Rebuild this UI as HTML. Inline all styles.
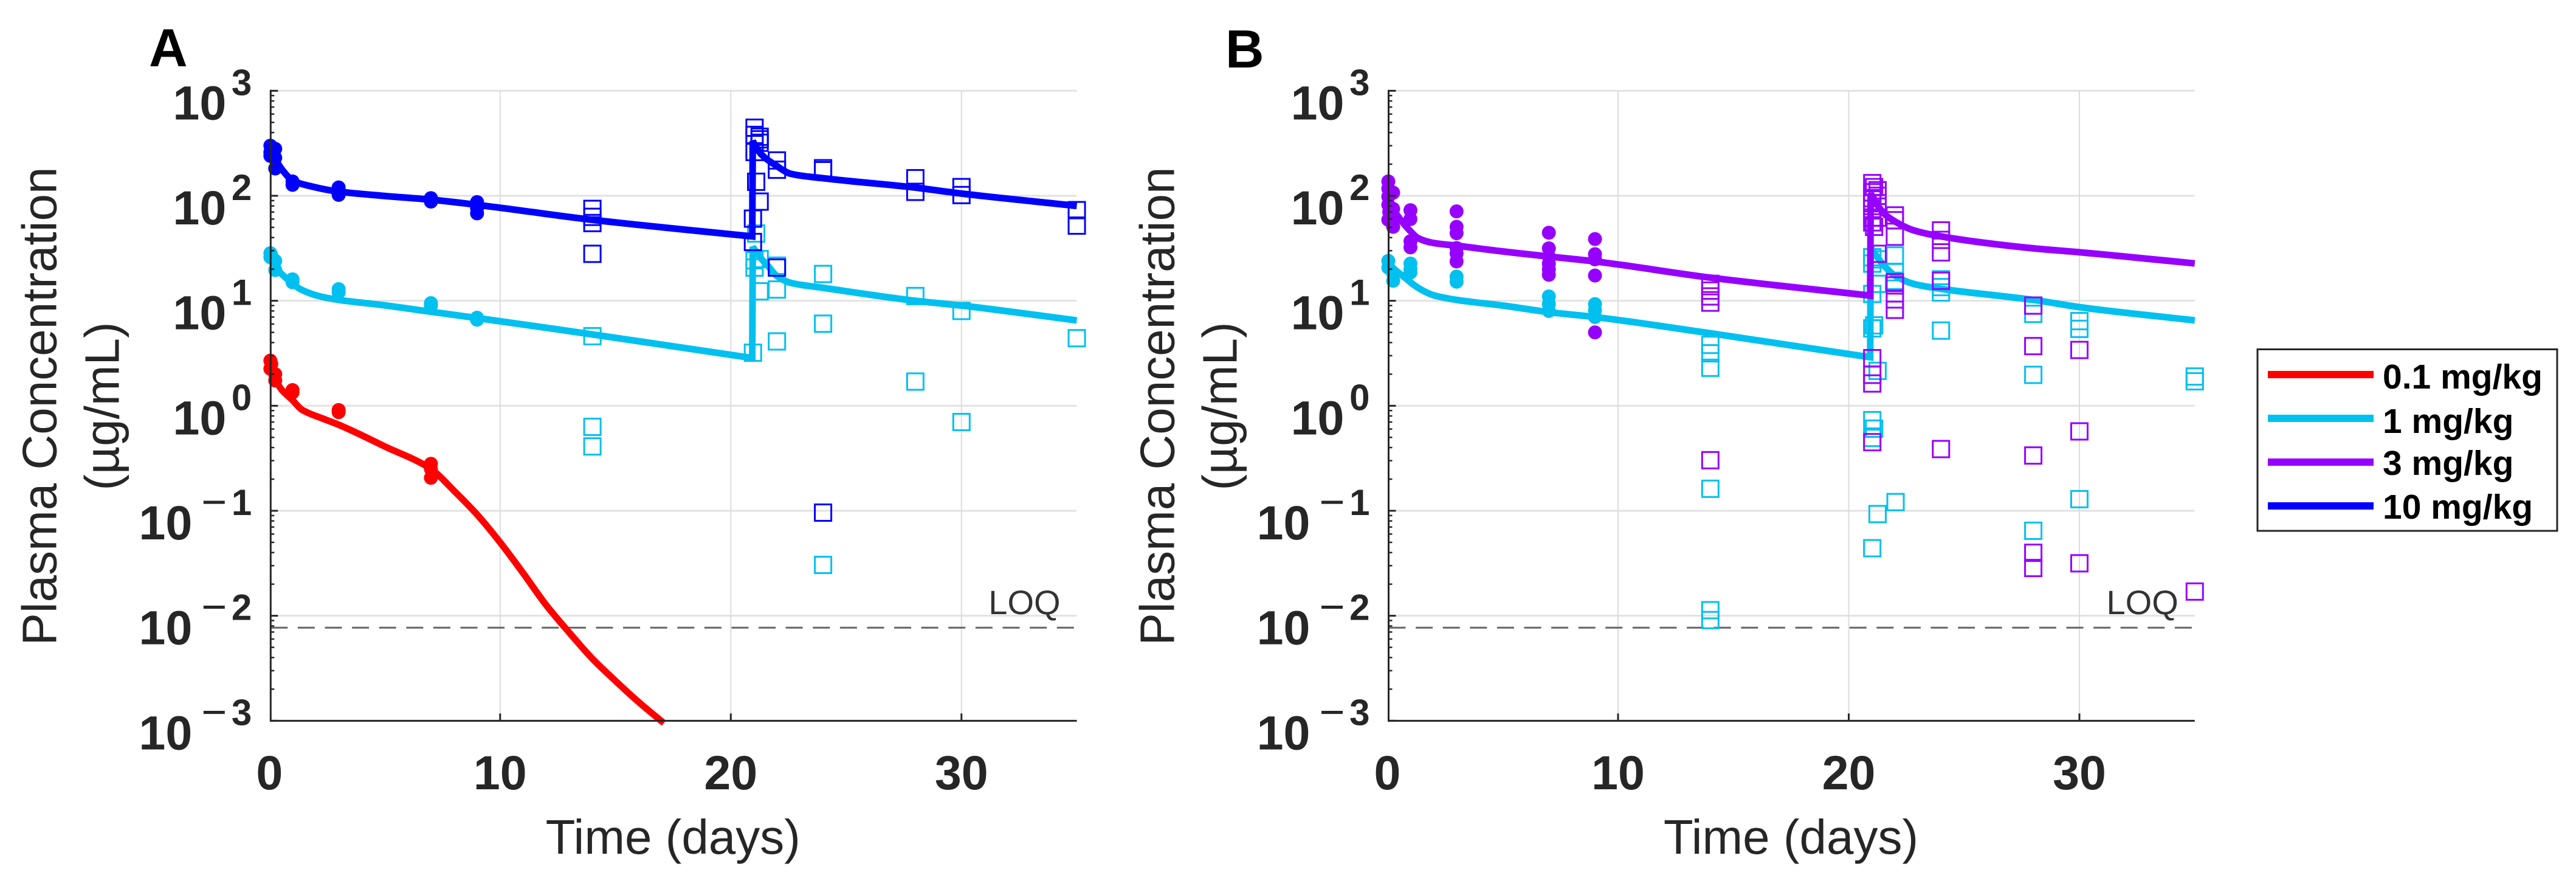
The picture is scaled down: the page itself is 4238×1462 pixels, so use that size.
<!DOCTYPE html>
<html lang="en">
<head>
<meta charset="utf-8">
<title>Plasma Concentration vs Time</title>
<style>
html,body{margin:0;padding:0;background:#fff;width:4238px;height:1462px;overflow:hidden}
svg{display:block}
text{font-family:"Liberation Sans",Arial,sans-serif;fill:#262626}
</style>
</head>
<body>
<svg id="figure" xmlns="http://www.w3.org/2000/svg" width="4238" height="1462" viewBox="0 0 4238 1462">
  <rect x="0" y="0" width="4238" height="1462" fill="#fff"/>
  <text x="245" y="109" font-size="88" font-weight="bold" style="fill:#000">A</text>
  <text x="2016" y="111" font-size="88" font-weight="bold" style="fill:#000">B</text>
  <g id="panelA"></g>
  <g id="panelB"></g>
  <g id="legend">
    <rect x="3714" y="574.5" width="493" height="298.5" fill="#fff" stroke="#262626" stroke-width="3"/>
    <line x1="3731" x2="3905" y1="616" y2="616" stroke="#ff0000" stroke-width="12"/>
    <text x="3920" y="639" font-size="57" font-weight="bold" style="fill:#000">0.1 mg/kg</text>
    <line x1="3731" x2="3905" y1="688" y2="688" stroke="#00c0f0" stroke-width="12"/>
    <text x="3920" y="712" font-size="57" font-weight="bold" style="fill:#000">1 mg/kg</text>
    <line x1="3731" x2="3905" y1="760" y2="760" stroke="#9600ff" stroke-width="12"/>
    <text x="3920" y="781" font-size="57" font-weight="bold" style="fill:#000">3 mg/kg</text>
    <line x1="3731" x2="3905" y1="832" y2="832" stroke="#0000ff" stroke-width="12"/>
    <text x="3920" y="853" font-size="57" font-weight="bold" style="fill:#000">10 mg/kg</text>
  </g>
</svg>
<script>
// ---- axis tick data ----
const xTickValues = [0, 10, 20, 30];
const xGridValues = [10, 20, 30];
const yTickExponents = [3, 2, 1, 0, -1, -2, -3];
const yMinorFactors = [2, 3, 4, 5, 6, 7, 8, 9];
const loqValue = 0.0077;

// ---- Panel A model curves ----
const aRedTimes = [0, 0.25, 0.52, 1, 1.4, 2.28, 3, 5, 7, 8, 9, 10, 11, 12, 13, 14, 15, 16, 17.1];
const aRedValues = [2.5, 1.8, 1.43, 1.13, 0.92, 0.76, 0.66, 0.41, 0.25, 0.155, 0.092, 0.05, 0.0254, 0.0126, 0.0069, 0.0039, 0.0024, 0.00151, 0.00095];
const aCyanPreTimes = [0, 0.25, 0.7, 1.4, 2.28, 3, 4.9, 7, 9, 14, 20.93];
const aCyanPreValues = [27, 21, 16.6, 12.7, 10.9, 10.2, 9.1, 7.86, 6.85, 4.78, 2.85];
const aCyanPostTimes = [20.95, 21.3, 21.6, 22, 22.6, 24, 28, 30, 35];
const aCyanPostValues = [32.6, 25.5, 21.6, 17.2, 14.8, 13.3, 10, 9, 6.5];
const aBluePreTimes = [0, 0.25, 0.57, 1, 1.83, 3, 4.9, 7, 9, 14, 20.93];
const aBluePreValues = [288, 225, 175, 140, 122.7, 109.6, 100, 91.8, 82, 59, 41];
const aBluePostTimes = [20.95, 21.3, 21.95, 22.6, 24, 28, 30, 35];
const aBluePostValues = [332, 251, 195, 162, 147, 119.6, 105, 80];

// ---- Panel A observed dots (first dose) ----
const aRedDotTimes = [0.04, 0.04, 0.08, 0.25, 0.25, 1, 1, 3, 3, 7, 7, 7];
const aRedDotValues = [2.69, 2.25, 2.5, 1.74, 2.0, 1.41, 1.34, 0.91, 0.87, 0.28, 0.25, 0.206];
const aCyanDotTimes = [0.04, 0.04, 0.08, 0.25, 0.25, 1, 1, 3, 3, 7, 7, 9, 9];
const aCyanDotValues = [28.4, 26, 27, 24, 19.6, 16, 15, 12.9, 12, 9.5, 9, 6.9, 6.6];
const aBlueDotTimes = [0.04, 0.04, 0.04, 0.08, 0.25, 0.25, 0.25, 1, 1, 3, 3, 7, 7, 9, 9, 9];
const aBlueDotValues = [300, 260, 240, 280, 280, 230, 182, 137, 127, 120, 102, 95, 88, 87, 76, 68];

// ---- Panel A observed squares (second dose / sparse) ----
const aCyanSquareTimes = [14, 14, 14, 21.1, 21.03, 21.03, 21.25, 21.25, 20.96, 22, 22, 22, 24, 24, 24, 28, 28, 30, 30, 35];
const aCyanSquareValues = [4.6, 0.63, 0.41, 43.7, 24.3, 20.7, 25, 12.3, 3.2, 21.6, 12.8, 4.1, 18, 6.05, 0.0305, 11.1, 1.7, 8, 0.7, 4.4];
const aBlueSquareTimes = [14, 14, 14, 14, 21.03, 21.03, 21.03, 21.25, 21.25, 21.25, 21.1, 21.25, 20.96, 20.96, 22, 22, 22, 24, 24, 24, 28, 28, 30, 30, 35, 35];
const aBlueSquareValues = [75, 63, 55, 28, 445, 380, 261, 365, 345, 320, 136, 88, 60.6, 36.3, 217, 177, 20.7, 183, 175, 0.096, 147, 109, 121, 101.6, 73, 52];

// ---- Panel B model curves ----
const bCyanPreTimes = [0, 0.25, 0.7, 1.33, 2, 3, 5, 7, 9, 14, 20.93];
const bCyanPreValues = [24, 20.5, 17, 13.3, 11.3, 10.2, 9, 7.8, 7, 4.9, 2.9];
const bCyanPostTimes = [20.95, 21.5, 22, 22.8, 24, 28, 30, 35];
const bCyanPostValues = [32, 22, 17.4, 14.5, 13, 10.2, 8.7, 6.5];
const bPurplePreTimes = [0, 0.25, 0.5, 1, 1.33, 2, 3, 5, 7, 9, 14, 20.93];
const bPurplePreValues = [100, 75, 62, 46, 39.5, 35.5, 33.5, 29.5, 26.4, 23.7, 16.6, 11.2];
const bPurplePostTimes = [20.95, 21.5, 22, 22.8, 24, 28, 30, 35];
const bPurplePostValues = [105, 68.7, 57, 47, 41, 31.6, 29, 22.7];

// ---- Panel B observed dots ----
const bCyanDotTimes = [0.04, 0.04, 0.25, 0.25, 1, 1, 1, 3, 3, 7, 7, 7, 9, 9, 9];
const bCyanDotValues = [24, 20.7, 18.2, 15.5, 22.6, 20, 18.6, 17, 15.2, 11, 9.3, 8, 9.3, 8.1, 7];
const bPurpleDotTimes = [0.04, 0.04, 0.04, 0.04, 0.04, 0.08, 0.25, 0.25, 0.25, 0.25, 1, 1, 1, 1, 3, 3, 3, 3, 3, 3, 7, 7, 7, 7, 7, 7, 9, 9, 9, 9, 9];
const bPurpleDotValues = [137, 117, 98, 82, 59, 70, 107, 75, 60, 50.6, 72.9, 60, 36.9, 32.3, 71, 50.6, 44, 31.8, 28.2, 23.7, 44.5, 31.6, 26.4, 22.6, 19.9, 17.7, 38.7, 27.8, 24.8, 17.4, 5];

// ---- Panel B observed squares ----
const bCyanSquareTimes = [14, 14, 14, 14, 14, 14, 21.02, 21.02, 21.02, 21.02, 21.1, 21.25, 21.25, 21.25, 21.02, 21.1, 21.02, 21.25, 21.02, 22.03, 22, 22, 22, 24, 24, 24, 24, 28, 28, 28, 28, 30, 30, 30, 35, 35];
const bCyanSquareValues = [3.8, 3.16, 2.3, 0.162, 0.0113, 0.0091, 26, 22.6, 11.6, 5.46, 5.83, 2.15, 24.8, 0.093, 0.73, 0.605, 0.494, 14.5, 0.044, 0.121, 27, 18.7, 15.5, 16, 13.5, 12, 5.2, 9, 7.5, 1.97, 0.0645, 6.4, 5.4, 0.129, 1.9, 1.71];
const bPurpleSquareTimes = [14, 14, 14, 14, 14, 21.02, 21.1, 21.02, 21.02, 21.02, 21.02, 21.02, 21.25, 21.25, 21.25, 21.25, 21.02, 21.1, 21.25, 21.02, 21.02, 21.02, 21.02, 22, 22, 22, 22, 22, 22, 22, 24, 24, 24, 24, 24, 28, 28, 28, 28, 28, 30, 30, 30, 35];
const bPurpleSquareValues = [14.5, 12.5, 11, 9.6, 0.303, 132, 121, 108, 95, 85, 75, 62, 113, 100, 85, 62, 55.8, 50.6, 28, 2.84, 1.97, 1.63, 0.45, 65, 58.5, 40.7, 15, 14, 10.3, 8.2, 46.8, 38, 28.9, 15.5, 0.387, 9, 3.7, 0.336, 0.0398, 0.0285, 3.4, 0.57, 0.0316, 0.017];

// ---- Palette ----
const RED = '#ff0000', CYAN = '#00c0f0', PURPLE = '#9600ff', BLUE = '#0000ff', INK = '#262626';
const SVGNS = 'http://www.w3.org/2000/svg';

// ---- Axis layout ----
const Y_TOP = 149.3, DECADE = 172.67, DAY = 37.95, X_SPAN = 35, AXIS_SHIFT = 2;
const yScale = v => Y_TOP + (3 - Math.log10(v)) * DECADE;
const Y_BOTTOM = yScale(0.001);

function makeEl(tag, attrs) {
  const el = document.createElementNS(SVGNS, tag);
  Object.keys(attrs).forEach(k => el.setAttribute(k, attrs[k]));
  return el;
}

// Monotone cubic through the read points
function smoothPath(xs, ys) {
  const n = xs.length;
  const h = [], s = [], m = [];
  for (let i = 0; i < n - 1; i++) {
    h.push(xs[i + 1] - xs[i]);
    s.push((ys[i + 1] - ys[i]) / h[i]);
  }
  m[0] = s[0];
  m[n - 1] = s[n - 2];
  for (let i = 1; i < n - 1; i++) {
    if (s[i - 1] * s[i] <= 0) { m[i] = 0; continue; }
    const w1 = 2 * h[i] + h[i - 1], w2 = h[i] + 2 * h[i - 1];
    m[i] = (w1 + w2) / (w1 / s[i - 1] + w2 / s[i]);
  }
  let d = 'M' + xs[0].toFixed(1) + ' ' + ys[0].toFixed(1);
  for (let i = 0; i < n - 1; i++) {
    const c1x = xs[i] + h[i] / 3, c1y = ys[i] + m[i] * h[i] / 3;
    const c2x = xs[i + 1] - h[i] / 3, c2y = ys[i + 1] - m[i + 1] * h[i] / 3;
    d += 'C' + c1x.toFixed(1) + ' ' + c1y.toFixed(1) + ' ' + c2x.toFixed(1) + ' ' + c2y.toFixed(1) + ' ' + xs[i + 1].toFixed(1) + ' ' + ys[i + 1].toFixed(1);
  }
  return d;
}

function drawAxes(root, x0, prefix) {
  const xScale = t => x0 + t * DAY;
  const right = xScale(X_SPAN);
  const left = x0 + AXIS_SHIFT;
  yTickExponents.forEach(e => {
    const y = yScale(Math.pow(10, e));
    const g = makeEl('line', {x1: left, x2: right, y1: y, y2: y, stroke: '#e2e2e2', 'stroke-width': 3});
    
    
    root.appendChild(g);
  });
  xGridValues.forEach(t => {
    const g = makeEl('line', {x1: xScale(t), x2: xScale(t), y1: Y_TOP, y2: Y_BOTTOM, stroke: '#dcdcdc', 'stroke-width': 2});
    
    
    root.appendChild(g);
  });
  const loq = makeEl('line', {x1: left, x2: right, y1: yScale(loqValue), y2: yScale(loqValue), stroke: '#666', 'stroke-width': 3, 'stroke-dasharray': '28 16.6'});
  
  
  root.appendChild(loq);
  const loqText = makeEl('text', {x: x0 + 1183, y: 1010, 'font-size': 56, style: 'fill:#333'});
  loqText.textContent = 'LOQ';
  
  
  root.appendChild(loqText);
}

function drawFrame(root, x0, prefix) {
  const xScale = t => x0 + t * DAY;
  const right = xScale(X_SPAN);
  const left = x0 + AXIS_SHIFT;
  const yAxis = makeEl('line', {x1: left, x2: left, y1: Y_TOP - 1.5, y2: Y_BOTTOM + 1.5, stroke: INK, 'stroke-width': 3});
  
  
  root.appendChild(yAxis);
  const xAxis = makeEl('line', {x1: left, x2: right, y1: Y_BOTTOM, y2: Y_BOTTOM, stroke: INK, 'stroke-width': 3});
  
  
  root.appendChild(xAxis);

  xTickValues.forEach(t => {
    if (t > 0) {
      const tick = makeEl('line', {x1: xScale(t), x2: xScale(t), y1: Y_BOTTOM, y2: Y_BOTTOM - 12, stroke: INK, 'stroke-width': 3});
      
      
      root.appendChild(tick);
    }
    const label = makeEl('text', {x: xScale(t), y: 1298, 'font-size': 79, 'font-weight': 'bold', 'text-anchor': 'middle'});
    label.textContent = String(t);
    
    
    root.appendChild(label);
  });

  yTickExponents.forEach(e => {
    const yy = yScale(Math.pow(10, e));
    const tick = makeEl('line', {x1: left, x2: left + 12, y1: yy, y2: yy, stroke: INK, 'stroke-width': 3});
    
    
    root.appendChild(tick);
    if (e > -3) {
      yMinorFactors.forEach(f => {
        const my = yScale(f * Math.pow(10, e - 1));
        const minor = makeEl('line', {x1: left, x2: left + 6, y1: my, y2: my, stroke: INK, 'stroke-width': 2.5});
        
        
        root.appendChild(minor);
      });
    }
    const neg = e < 0;
    const base = makeEl('text', {x: x0 - (neg ? 127 : 71), y: yy + 47, 'font-size': 79, 'font-weight': 'bold', 'text-anchor': 'end'});
    base.textContent = '10';
    
    
    root.appendChild(base);
    const sup = makeEl('text', {x: x0 - 29, y: yy + 7, 'font-size': 60, 'font-weight': 'bold', 'text-anchor': 'end'});
    sup.textContent = String(Math.abs(e));
    
    
    root.appendChild(sup);
    if (neg) {
      const minus = makeEl('text', {x: x0 - 70, y: yy + 10, 'font-size': 72, 'text-anchor': 'end'});
      minus.textContent = '\u2212';
      
      
      root.appendChild(minus);
    }
  });

  const xTitle = makeEl('text', {x: x0 + 664, y: 1404, 'font-size': 80, 'text-anchor': 'middle'});
  xTitle.textContent = 'Time (days)';
  
  
  root.appendChild(xTitle);

  const yTitle1 = makeEl('text', {transform: 'translate(' + (x0 - 351) + ',668) rotate(-90)', 'font-size': 80, 'text-anchor': 'middle'});
  yTitle1.textContent = 'Plasma Concentration';
  
  
  root.appendChild(yTitle1);
  const yTitle2 = makeEl('text', {transform: 'translate(' + (x0 - 248) + ',668) rotate(-90)', 'font-size': 80, 'text-anchor': 'middle'});
  yTitle2.textContent = '(\u00b5g/mL)';
  
  
  root.appendChild(yTitle2);
}

function drawCurve(root, x0, preT, preV, postT, postV, color, name) {
  const sx = t => x0 + t * DAY;
  let d = smoothPath(preT.map(sx), preV.map(yScale));
  if (postT.length) {
    const sub = smoothPath(postT.map(sx), postV.map(yScale));
    d += 'L' + sub.slice(1);
  }
  const path = makeEl('path', {d: d, fill: 'none', stroke: color, 'stroke-width': 11, 'stroke-linejoin': 'miter', 'stroke-miterlimit': 3});
  
  
  root.appendChild(path);
}

function drawDots(root, x0, times, values, color, name) {
  times.forEach((t, i) => {
    const dot = makeEl('circle', {cx: x0 + t * DAY, cy: yScale(values[i]), r: 11.5, fill: color});
    
    
    root.appendChild(dot);
  });
}

function drawSquares(root, x0, times, values, color, name) {
  times.forEach((t, i) => {
    const sq = makeEl('rect', {x: x0 + t * DAY - 13.5, y: yScale(values[i]) - 13.5, width: 27, height: 27, fill: 'none', stroke: color, 'stroke-width': 3});
    
    
    root.appendChild(sq);
  });
}

// Panel A
const ax0 = 443.3;
const gA = document.getElementById('panelA');
drawAxes(gA, ax0, 'panel-a');
drawSquares(gA, ax0, aCyanSquareTimes, aCyanSquareValues, CYAN, 'panel-a-1mgkg-square');
drawCurve(gA, ax0, aRedTimes, aRedValues, [], [], RED, 'panel-a-0-1mgkg-curve');
drawDots(gA, ax0, aRedDotTimes, aRedDotValues, RED, 'panel-a-0-1mgkg-dot');
drawCurve(gA, ax0, aCyanPreTimes, aCyanPreValues, aCyanPostTimes, aCyanPostValues, CYAN, 'panel-a-1mgkg-curve');
drawDots(gA, ax0, aCyanDotTimes, aCyanDotValues, CYAN, 'panel-a-1mgkg-dot');
drawSquares(gA, ax0, aBlueSquareTimes, aBlueSquareValues, BLUE, 'panel-a-10mgkg-square');
drawCurve(gA, ax0, aBluePreTimes, aBluePreValues, aBluePostTimes, aBluePostValues, BLUE, 'panel-a-10mgkg-curve');
drawDots(gA, ax0, aBlueDotTimes, aBlueDotValues, BLUE, 'panel-a-10mgkg-dot');
drawFrame(gA, ax0, 'panel-a');

// Panel B
const bx0 = 2282.5;
const gB = document.getElementById('panelB');
drawAxes(gB, bx0, 'panel-b');
drawSquares(gB, bx0, bCyanSquareTimes, bCyanSquareValues, CYAN, 'panel-b-1mgkg-square');
drawCurve(gB, bx0, bCyanPreTimes, bCyanPreValues, bCyanPostTimes, bCyanPostValues, CYAN, 'panel-b-1mgkg-curve');
drawDots(gB, bx0, bCyanDotTimes, bCyanDotValues, CYAN, 'panel-b-1mgkg-dot');
drawSquares(gB, bx0, bPurpleSquareTimes, bPurpleSquareValues, PURPLE, 'panel-b-3mgkg-square');
drawCurve(gB, bx0, bPurplePreTimes, bPurplePreValues, bPurplePostTimes, bPurplePostValues, PURPLE, 'panel-b-3mgkg-curve');
drawDots(gB, bx0, bPurpleDotTimes, bPurpleDotValues, PURPLE, 'panel-b-3mgkg-dot');
drawFrame(gB, bx0, 'panel-b');
</script>
</body>
</html>
